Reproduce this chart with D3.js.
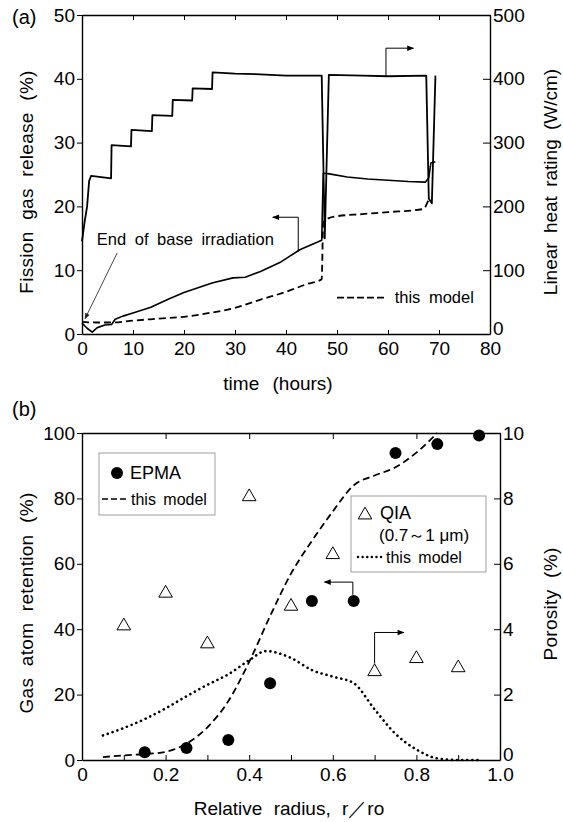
<!DOCTYPE html>
<html><head><meta charset="utf-8">
<script src="https://cdn.jsdelivr.net/npm/d3@7"></script>
<style>
html,body{margin:0;padding:0;background:#fff;}
svg{display:block;font-family:"Liberation Sans",Arial,Helvetica,sans-serif;}
</style></head>
<body><svg id="c" width="563" height="822"></svg>
<script>
// ---------- Panel (a) data ----------
const lhrTime  = [0, 0.5, 1.0, 1.4, 1.8, 5.7, 5.8, 9.6, 9.7, 13.7, 13.8, 17.7, 17.8, 21.6, 21.7, 25.5, 25.6, 30, 35, 40, 47.0, 47.6, 48.4, 55, 60, 67.5, 68.0, 68.6, 69.3];
const lhrValue = [145, 175, 200, 240, 248, 244, 296, 294, 320, 318, 343, 342, 367, 366, 385, 384, 410, 408, 407, 405, 405, 150, 406, 405, 404, 405, 212, 205, 405];
const fgTime  = [0, 1, 2, 3, 4.5, 5.8, 6.5, 8, 10, 13.5, 17, 20, 25.5, 29.6, 32, 35, 39, 42.7, 47, 47.3, 48.5, 52, 56, 60, 64, 67.3, 68.0, 68.4, 69.3];
const fgValue = [1.7, 0.9, 0.3, 1.0, 1.4, 1.5, 2.3, 2.8, 3.3, 4.2, 5.5, 6.5, 8.0, 8.8, 8.9, 9.8, 11.3, 13.2, 14.7, 25.2, 25.1, 24.6, 24.3, 24.1, 23.9, 23.8, 24.5, 26.8, 27.0];
const modelATime  = [0, 3, 6, 10, 15, 20, 25, 30, 35, 40, 44, 47, 47.3, 48, 49.5, 55, 60, 67, 68, 68.6];
const modelAValue = [1.9, 1.8, 1.8, 2.1, 2.4, 2.7, 3.3, 4.1, 5.4, 6.6, 7.8, 8.6, 17.4, 18.0, 18.4, 18.8, 19.1, 19.6, 21.0, 21.3];
const aXTicks = [0, 10, 20, 30, 40, 50, 60, 70, 80];
const aYLeftTicks = [0, 10, 20, 30, 40, 50];
const aYRightTicks = [0, 100, 200, 300, 400, 500];

// ---------- Panel (b) data ----------
const rEPMA = [0.15, 0.25, 0.35, 0.45, 0.55, 0.65, 0.75, 0.85, 0.95];
const vEPMA = [2.4, 3.7, 6.1, 23.5, 48.6, 48.6, 93.9, 96.6, 99.2];
const rQIA = [0.1, 0.2, 0.3, 0.4, 0.5, 0.6, 0.7, 0.8, 0.9];
const pQIA = [4.1, 5.1, 3.55, 8.05, 4.7, 6.28, 2.7, 3.1, 2.82];
const rModelRet = [0.05, 0.1, 0.15, 0.2, 0.25, 0.3, 0.35, 0.4, 0.45, 0.5, 0.55, 0.6, 0.65, 0.7, 0.75, 0.8, 0.85];
const vModelRet = [0.9, 1.4, 1.8, 2.5, 5.0, 10.0, 18, 30, 44, 57, 67, 76, 84, 87, 89.5, 94, 100];
const rModelPor = [0.05, 0.1, 0.15, 0.2, 0.25, 0.3, 0.35, 0.4, 0.44, 0.5, 0.55, 0.6, 0.65, 0.7, 0.75, 0.8, 0.85, 0.9, 0.95];
const vModelPor = [0.75, 0.98, 1.25, 1.58, 1.95, 2.3, 2.62, 3.05, 3.33, 3.12, 2.75, 2.55, 2.35, 1.55, 0.8, 0.32, 0.05, 0.0, 0.0];
const bXTicks = [0, 0.2, 0.4, 0.6, 0.8, 1.0];
const bYLeftTicks = [0, 20, 40, 60, 80, 100];
const bYRightTicks = [0, 2, 4, 6, 8, 10];

const svg = d3.select("#c");
svg.append("rect").attr("width",563).attr("height",822).attr("fill","#fff");
const defs = svg.append("defs");
defs.append("marker").attr("id","ah").attr("viewBox","0 0 10 10").attr("refX",9).attr("refY",5)
  .attr("markerWidth",9).attr("markerHeight",7).attr("markerUnits","userSpaceOnUse").attr("orient","auto")
  .append("path").attr("d","M0,1 L10,5 L0,9 Z").attr("fill","#000");
defs.append("marker").attr("id","ahs").attr("viewBox","0 0 10 10").attr("refX",9).attr("refY",5)
  .attr("markerWidth",7).attr("markerHeight",6).attr("markerUnits","userSpaceOnUse").attr("orient","auto")
  .append("path").attr("d","M0,1 L10,5 L0,9 Z").attr("fill","#222");

const FS = 19;
function styleAxis(g){
  g.select(".domain").attr("stroke","#000").attr("stroke-width",1.4);
  g.selectAll(".tick line").attr("stroke","#000").attr("stroke-width",1);
  g.selectAll(".tick text").attr("font-size",FS).attr("fill","#000").attr("font-family","Liberation Sans, Arial, sans-serif");
  return g;
}
function yTitle(x, y, txt, ws, ls){
  svg.append("text").attr("transform",`translate(${x},${y}) rotate(-90)`).attr("text-anchor","middle")
    .attr("font-size",FS).attr("word-spacing",ws).attr("letter-spacing",ls).attr("dy","0.35em").text(txt);
}

// ================= Panel (a) =================
const ax = d3.scaleLinear().domain([0,80]).range([82,490]);
const ayL = d3.scaleLinear().domain([0,50]).range([334,15]);
const ayR = d3.scaleLinear().domain([0,500]).range([334,15]);

styleAxis(svg.append("g").attr("transform","translate(0,334)")
  .call(d3.axisBottom(ax).tickValues(aXTicks).tickFormat(d3.format("d")).tickSize(-4).tickPadding(8).tickSizeOuter(0)));
styleAxis(svg.append("g").attr("transform","translate(0,15)")
  .call(d3.axisTop(ax).tickValues(aXTicks).tickFormat("").tickSize(-5).tickSizeOuter(0)));
styleAxis(svg.append("g").attr("transform","translate(82,0)")
  .call(d3.axisLeft(ayL).tickValues(aYLeftTicks).tickFormat(d3.format("d")).tickSize(5).tickPadding(2).tickSizeOuter(0)));
const aR = styleAxis(svg.append("g").attr("transform","translate(490,0)")
  .call(d3.axisRight(ayR).tickValues(aYRightTicks).tickFormat(d3.format("d")).tickSize(-7).tickPadding(3).tickSizeOuter(0)));
aR.selectAll(".tick text").filter(d=>d===0).attr("dy","0.0em");

svg.append("text").attr("x",12).attr("y",24).attr("font-size",20).text("(a)");
yTitle(26, 182, "Fission gas release (%)", 6, 0.3);
yTitle(550, 182, "Linear heat rating (W/cm)", 4, 0);
svg.append("text").attr("x",278).attr("y",390).attr("text-anchor","middle").attr("font-size",FS)
  .attr("word-spacing",8).text("time (hours)");

const la = (xs, ys, sx, sy) => d3.line().x((d,i)=>sx(xs[i])).y((d,i)=>sy(ys[i]));
svg.append("path").attr("d", la(lhrTime, lhrValue, ax, ayR)(lhrTime)).attr("fill","none").attr("stroke","#000").attr("stroke-width",1.8).attr("stroke-linejoin","round");
svg.append("path").attr("d", la(fgTime, fgValue, ax, ayL)(fgTime)).attr("fill","none").attr("stroke","#000").attr("stroke-width",1.6).attr("stroke-linejoin","round");
svg.append("path").attr("d", la(modelATime, modelAValue, ax, ayL).curve(d3.curveMonotoneX)(modelATime)).attr("fill","none").attr("stroke","#000").attr("stroke-width",1.8).attr("stroke-dasharray","7,4");

// annotations (a)
svg.append("text").attr("x",ax(2.9)).attr("y",ayL(13.9)).attr("font-size",16.5).attr("word-spacing",4).text("End of base irradiation");
svg.append("line").attr("x1",ax(6.9)).attr("y1",ayL(12.7)).attr("x2",ax(0.6)).attr("y2",ayL(2.4))
  .attr("stroke","#333").attr("stroke-width",0.9).attr("marker-end","url(#ahs)");
svg.append("path").attr("d",`M${ax(42.4)},${ayL(12.9)} V${ayL(18.3)} H${ax(37.4)}`).attr("fill","none").attr("stroke","#000").attr("stroke-width",1).attr("marker-end","url(#ah)");
svg.append("path").attr("d",`M${ax(59.6)},${ayR(403)} V${ayR(448)} H${ax(65.0)}`).attr("fill","none").attr("stroke","#000").attr("stroke-width",1).attr("marker-end","url(#ah)");
svg.append("line").attr("x1",ax(50.0)).attr("x2",ax(59.6)).attr("y1",ayL(5.7)).attr("y2",ayL(5.7))
  .attr("stroke","#000").attr("stroke-width",1.8).attr("stroke-dasharray","7,3");
svg.append("text").attr("x",ax(61.3)).attr("y",ayL(5.7)).attr("dy","0.35em").attr("font-size",16.5).attr("word-spacing",4).text("this model");

// ================= Panel (b) =================
const bx = d3.scaleLinear().domain([0,1]).range([82,500]);
const byL = d3.scaleLinear().domain([0,100]).range([760,433]);
const byR = d3.scaleLinear().domain([0,10]).range([760,433]);

styleAxis(svg.append("g").attr("transform","translate(0,760)")
  .call(d3.axisBottom(bx).tickValues(d3.range(0,1.01,0.1)).tickFormat(d=> bXTicks.some(t=>Math.abs(t-d)<1e-6) ? (d===0?"0":d3.format(".1f")(d)) : "").tickSize(-5).tickPadding(8).tickSizeOuter(0)));
styleAxis(svg.append("g").attr("transform","translate(0,433)")
  .call(d3.axisTop(bx).tickValues(bXTicks).tickFormat("").tickSize(-6).tickSizeOuter(0)));
styleAxis(svg.append("g").attr("transform","translate(82,0)")
  .call(d3.axisLeft(byL).tickValues(bYLeftTicks).tickFormat(d3.format("d")).tickSize(5).tickPadding(2).tickSizeOuter(0)));
const bR = styleAxis(svg.append("g").attr("transform","translate(500,0)")
  .call(d3.axisRight(byR).tickValues(bYRightTicks).tickFormat(d3.format("d")).tickSize(-6).tickPadding(3).tickSizeOuter(0)));
bR.selectAll(".tick text").filter(d=>d===0).attr("dy","0.05em");

svg.append("text").attr("x",12).attr("y",416).attr("font-size",20).text("(b)");
yTitle(26, 603, "Gas atom retention (%)", 6, 0.3);
yTitle(550, 604, "Porosity (%)", 6, 0.3);
svg.append("text").attr("x",289).attr("y",815).attr("text-anchor","middle").attr("font-size",FS)
  .attr("word-spacing",6).text("Relative radius, r／ro");

svg.append("path").attr("d", la(rModelRet, vModelRet, bx, byL).curve(d3.curveMonotoneX)(rModelRet)).attr("fill","none").attr("stroke","#000").attr("stroke-width",1.8).attr("stroke-dasharray","7,4");
svg.append("path").attr("d", la(rModelPor, vModelPor, bx, byR).curve(d3.curveMonotoneX)(rModelPor)).attr("fill","none").attr("stroke","#000").attr("stroke-width",2.6).attr("stroke-linecap","round").attr("stroke-dasharray","0.1,5");

const tri = d3.symbol().type(d3.symbolTriangle).size(80);
svg.append("g").selectAll("path").data(rQIA).join("path")
  .attr("transform",(d,i)=>`translate(${bx(d)},${byR(pQIA[i])})`).attr("d",tri()).attr("fill","#fff").attr("stroke","#000").attr("stroke-width",1);
svg.append("g").selectAll("circle").data(rEPMA).join("circle")
  .attr("cx",d=>bx(d)).attr("cy",(d,i)=>byL(vEPMA[i])).attr("r",6).attr("fill","#000");

// arrows (b)
svg.append("path").attr("d",`M${bx(0.648)},${byL(50.5)} V${byL(54.4)} H${bx(0.58)}`).attr("fill","none").attr("stroke","#000").attr("stroke-width",1).attr("marker-end","url(#ah)");
svg.append("path").attr("d",`M${bx(0.70)},${byR(2.95)} V${byR(3.9)} H${bx(0.77)}`).attr("fill","none").attr("stroke","#000").attr("stroke-width",1).attr("marker-end","url(#ah)");

// legend 1
svg.append("rect").attr("x",99).attr("y",453).attr("width",116).attr("height",62).attr("fill","#fff").attr("stroke","#888").attr("stroke-width",0.8);
svg.append("circle").attr("cx",117).attr("cy",473).attr("r",6).attr("fill","#000");
svg.append("text").attr("x",130).attr("y",473).attr("dy","0.35em").attr("font-size",18).text("EPMA");
svg.append("line").attr("x1",102).attr("x2",128).attr("y1",499).attr("y2",499).attr("stroke","#000").attr("stroke-width",1.6).attr("stroke-dasharray","6,3");
svg.append("text").attr("x",131).attr("y",499).attr("dy","0.35em").attr("font-size",16).attr("word-spacing",3).text("this model");

// legend 2
svg.append("rect").attr("x",351).attr("y",496).attr("width",135).attr("height",76).attr("fill","#fff").attr("stroke","#888").attr("stroke-width",0.8);
svg.append("path").attr("transform","translate(365,515)").attr("d",tri()).attr("fill","#fff").attr("stroke","#000").attr("stroke-width",1);
svg.append("text").attr("x",380).attr("y",513).attr("dy","0.35em").attr("font-size",18).text("QIA");
svg.append("text").attr("x",379).attr("y",535).attr("dy","0.35em").attr("font-size",17).text("(0.7～1 μm)");
svg.append("line").attr("x1",358).attr("x2",383).attr("y1",557).attr("y2",557).attr("stroke","#000").attr("stroke-width",2.4).attr("stroke-linecap","round").attr("stroke-dasharray","0.1,4.5");
svg.append("text").attr("x",386).attr("y",557).attr("dy","0.35em").attr("font-size",16).attr("word-spacing",3).text("this model");
</script></body></html>
